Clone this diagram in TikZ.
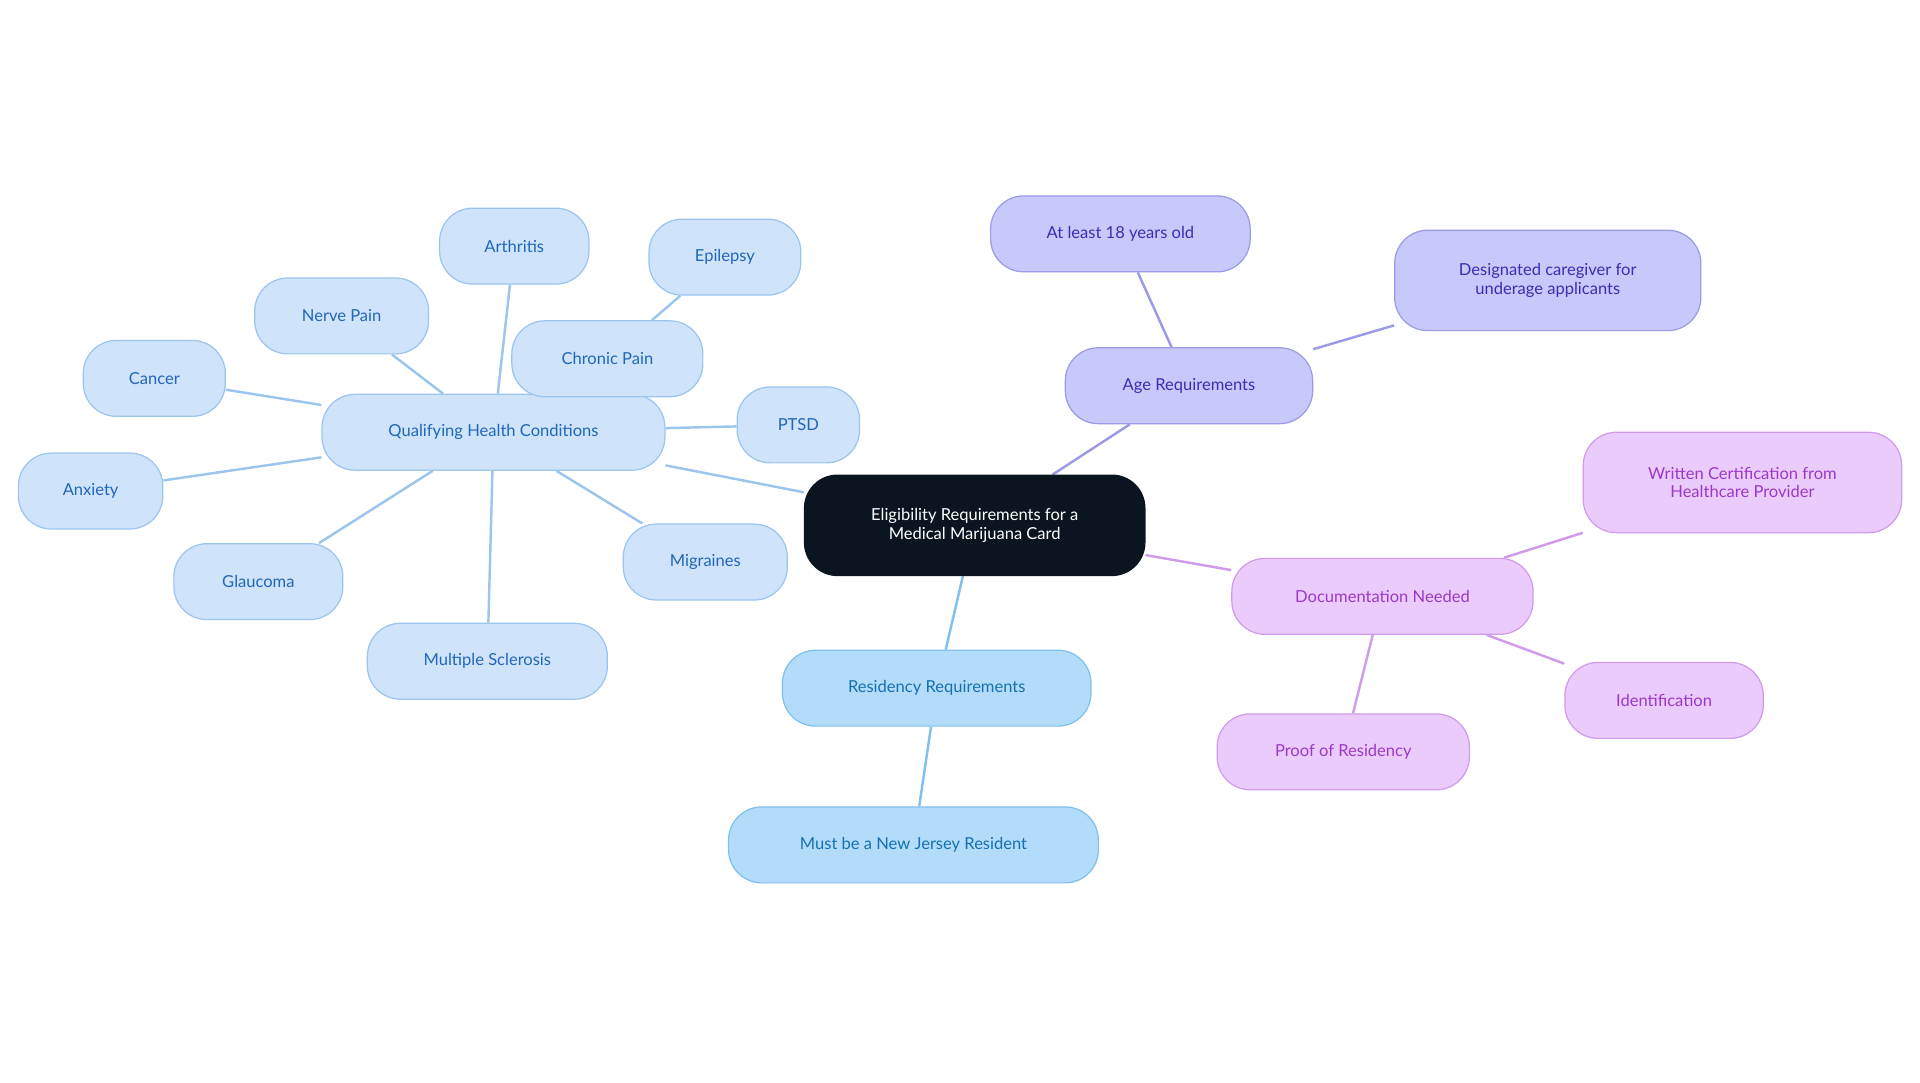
\documentclass[tikz,border=0pt]{standalone}
\usepackage{fontspec}
\setmainfont{Lato}
\usetikzlibrary{backgrounds}
\definecolor{cen}{HTML}{0B1520}
\definecolor{agef}{HTML}{C8C9FB}\definecolor{aged}{HTML}{9C9AE6}\definecolor{aget}{HTML}{3B2DB0}
\definecolor{docf}{HTML}{EBCBFB}\definecolor{docd}{HTML}{CF9BEA}\definecolor{doct}{HTML}{9A38C8}
\definecolor{resf}{HTML}{B3DCFA}\definecolor{resd}{HTML}{7EC0EE}\definecolor{rest}{HTML}{1670B0}
\definecolor{qf}{HTML}{CFE3FA}\definecolor{qd}{HTML}{9CC5EE}\definecolor{qt}{HTML}{2166B8}
\tikzset{x=1pt,y=-1pt,
 b/.style={draw,line width=1pt,rounded corners=27pt,minimum height=62pt,align=center,font=\fontsize{13.5}{15}\selectfont,inner sep=0pt},
 age/.style={b,fill=agef,draw=aged,text=aget},
 doc/.style={b,fill=docf,draw=docd,text=doct},
 res/.style={b,fill=resf,draw=resd,text=rest},
 q/.style={b,fill=qf,draw=qd,text=qt},
 e/.style={line width=2pt}}
\begin{document}
\begin{tikzpicture}
\useasboundingbox (0,0) rectangle (1568,884);
\node[b,fill=cen,draw=cen,text=white,minimum width=278pt,minimum height=82pt] (c) at (796,429) {Eligibility Requirements for a\\Medical Marijuana Card};
\node[age,minimum width=202pt] (age) at (971,315) {Age Requirements};
\node[age,minimum width=212pt] (a18) at (915,191) {At least 18 years old};
\node[age,minimum width=250pt,minimum height=82pt] (des) at (1264,229) {Designated caregiver for\\underage applicants};
\node[doc,minimum width=246pt] (doc) at (1129,487) {Documentation Needed};
\node[doc,minimum width=260pt,minimum height=82pt] (wri) at (1423,394) {Written Certification from\\Healthcare Provider};
\node[doc,minimum width=162pt] (idn) at (1359,572) {Identification};
\node[doc,minimum width=206pt] (pro) at (1097,614) {Proof of Residency};
\node[res,minimum width=252pt] (res) at (765,562) {Residency Requirements};
\node[res,minimum width=302pt] (nj) at (746,690) {Must be a New Jersey Resident};
\node[q,minimum width=280pt] (qhc) at (403,353) {Qualifying Health Conditions};
\node[q,minimum width=122pt] (art) at (420,201) {Arthritis};
\node[q,minimum width=124pt] (epi) at (592,210) {Epilepsy};
\node[q,minimum width=142pt] (ner) at (279,258) {Nerve Pain};
\node[q,minimum width=156pt] (chr) at (496,293) {Chronic Pain};
\node[q,minimum width=116pt] (can) at (126,309) {Cancer};
\node[q,minimum width=100pt] (pts) at (652,347) {PTSD};
\node[q,minimum width=118pt] (anx) at (74,401) {Anxiety};
\node[q,minimum width=134pt] (mig) at (576,459) {Migraines};
\node[q,minimum width=138pt] (gla) at (211,475) {Glaucoma};
\node[q,minimum width=196pt] (ms) at (398,540) {Multiple Sclerosis};
\begin{scope}[on background layer]
\draw[e,aged] (c)--(age) (age)--(a18) (age)--(des);
\draw[e,docd] (c)--(doc) (doc)--(wri) (doc)--(idn) (doc)--(pro);
\draw[e,resd] (c)--(res) (res)--(nj);
\draw[e,qd] (c)--(qhc) (chr)--(epi);
\foreach \n in {art,ner,chr,can,pts,anx,mig,gla,ms} \draw[e,qd] (qhc)--(\n);
\end{scope}
\end{tikzpicture}
\end{document}
